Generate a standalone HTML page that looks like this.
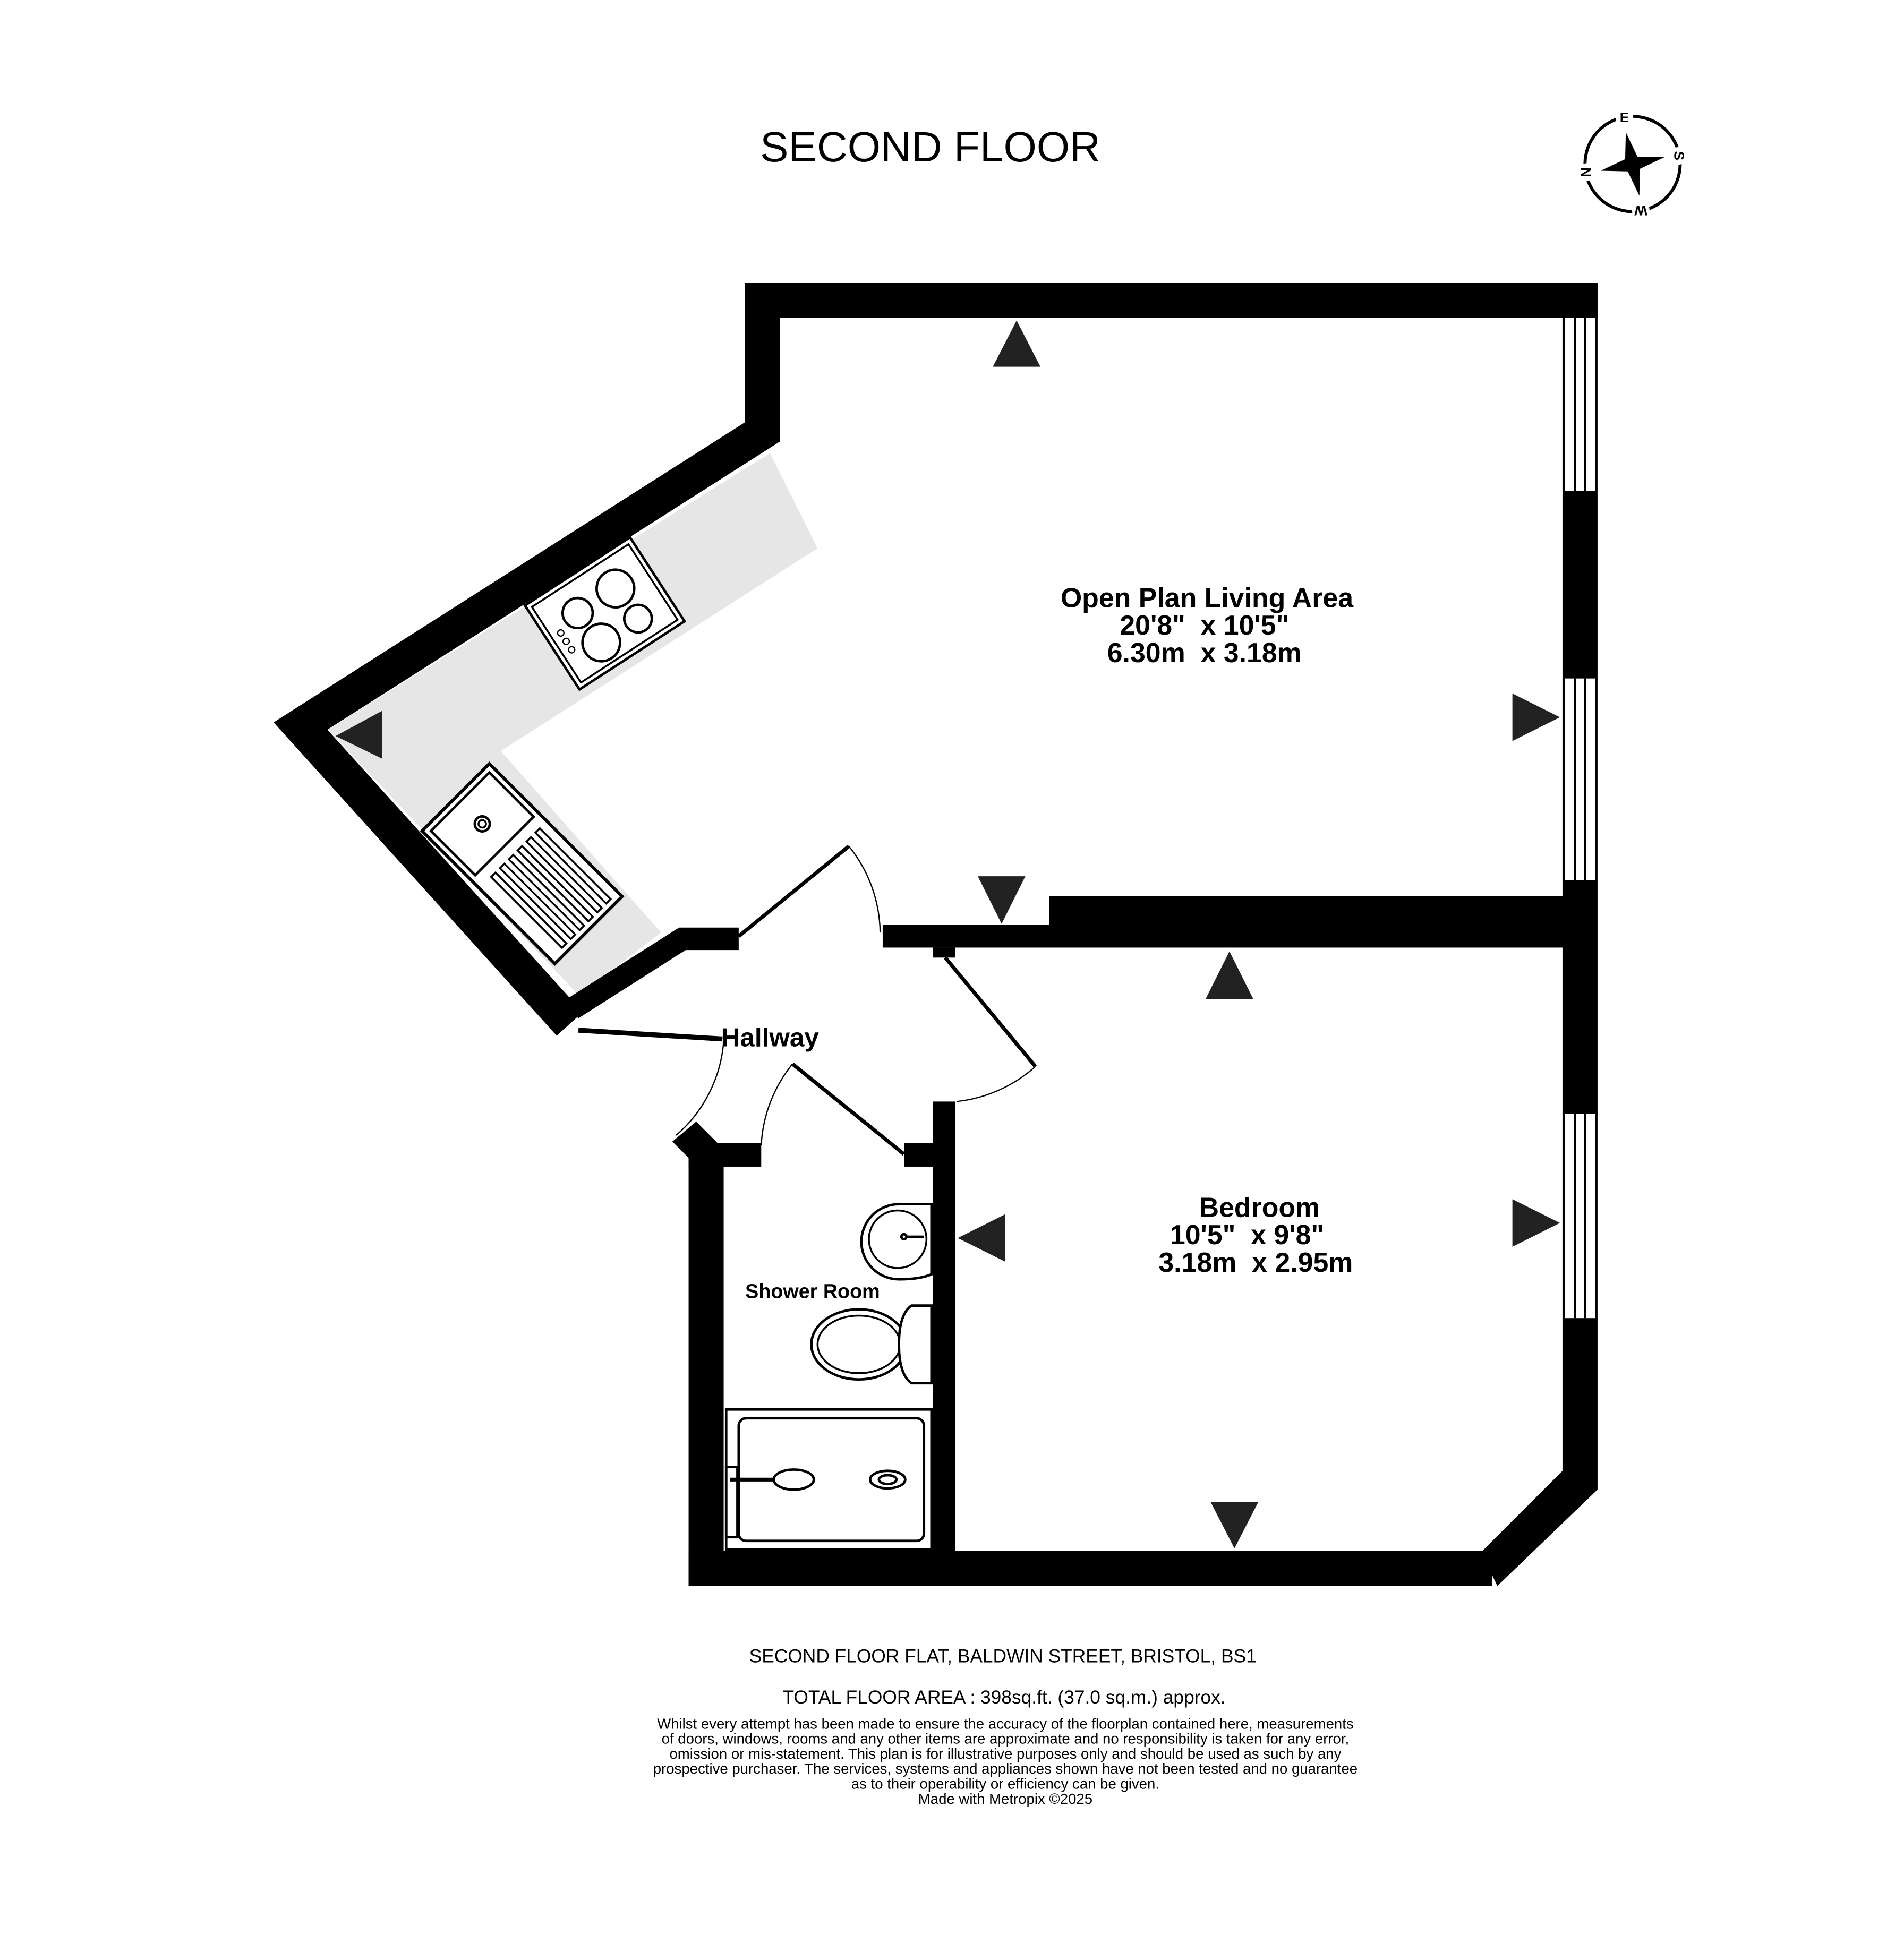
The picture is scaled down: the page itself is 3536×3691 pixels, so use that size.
<!DOCTYPE html>
<html><head><meta charset="utf-8"><style>
html,body{margin:0;padding:0;background:#fff;}
svg{display:block;}
text{font-family:"Liberation Sans",sans-serif;white-space:pre;}
</style></head><body>
<svg width="3536" height="3691" viewBox="0 0 1500 1565.8" xmlns="http://www.w3.org/2000/svg" xml:space="preserve">
<rect width="1500" height="1566" fill="#fff"/>
<text x="743" y="129" font-size="34" text-anchor="middle">SECOND FLOOR</text>
<!-- compass -->
<g transform="translate(1304,131)">
<circle r="38" fill="none" stroke="#000" stroke-width="2.5"/>
<polygon points="0,-26 5,-5 26,0 5,5 0,26 -5,5 -26,0 -5,-5" fill="#000" transform="rotate(-12)"/>
<g font-size="11" font-weight="bold" text-anchor="middle">
<g transform="rotate(-100) translate(38,0)"><rect x="-6" y="-7" width="12" height="14" fill="#fff"/><text transform="rotate(100)" y="4">E</text></g>
<g transform="rotate(-10) translate(38,0)"><rect x="-6" y="-7" width="12" height="14" fill="#fff"/><text transform="rotate(100)" y="4">S</text></g>
<g transform="rotate(80) translate(38,0)"><rect x="-7" y="-7" width="14" height="14" fill="#fff"/><text transform="rotate(100)" y="4">W</text></g>
<g transform="rotate(170) translate(38,0)"><rect x="-6" y="-7" width="12" height="14" fill="#fff"/><text transform="rotate(100)" y="4">N</text></g>
</g>
</g>
<!-- kitchen counter -->
<polygon points="262,583 615,362 653,438 400,600 528,745 462,795" fill="#e6e6e6"/>
<!-- main walls -->
<rect x="595" y="226" width="681" height="28" fill="#000"/>
<path d="M609,240 L609,345 L240,580 L455,818" stroke="#000" stroke-width="28" fill="none" stroke-linejoin="miter"/>
<path d="M457,806 L545,750 L590,750" stroke="#000" stroke-width="18" fill="none"/>
<rect x="705" y="739" width="557" height="18" fill="#000"/>
<rect x="838" y="716" width="424" height="25" fill="#000"/>
<rect x="745" y="757" width="18" height="8" fill="#000"/>
<rect x="745" y="880" width="18" height="387" fill="#000"/>
<!-- right wall -->
<rect x="1248" y="226" width="28" height="964" fill="#000"/>
<rect x="1249" y="254" width="26" height="138" fill="#fff"/>
<rect x="1249" y="542" width="26" height="161" fill="#fff"/>
<rect x="1249" y="890" width="26" height="163" fill="#fff"/>
<g stroke="#000" stroke-width="1.5">
<line x1="1249" y1="254" x2="1249" y2="392"/><line x1="1258" y1="254" x2="1258" y2="392"/><line x1="1266" y1="254" x2="1266" y2="392"/><line x1="1275" y1="254" x2="1275" y2="392"/>
<line x1="1249" y1="542" x2="1249" y2="703"/><line x1="1258" y1="542" x2="1258" y2="703"/><line x1="1266" y1="542" x2="1266" y2="703"/><line x1="1275" y1="542" x2="1275" y2="703"/>
<line x1="1249" y1="890" x2="1249" y2="1053"/><line x1="1258" y1="890" x2="1258" y2="1053"/><line x1="1266" y1="890" x2="1266" y2="1053"/><line x1="1275" y1="890" x2="1275" y2="1053"/>
</g>
<polygon points="1248,1175 1276,1190 1196,1267 1183,1240" fill="#000"/>
<rect x="550" y="1239" width="642" height="28" fill="#000"/>
<!-- shower room walls -->
<rect x="550" y="915" width="28" height="352" fill="#000"/>
<rect x="550" y="913" width="58" height="19" fill="#000"/>
<rect x="722" y="913" width="25" height="19" fill="#000"/>
<polygon points="537,912 556,896 575,915 555,930" fill="#000"/>
<!-- hallway thin wall -->
<line x1="462" y1="823" x2="577" y2="830" stroke="#000" stroke-width="4"/>
<!-- doors -->
<g stroke="#000" fill="none">
<line x1="590" y1="748" x2="678" y2="676" stroke-width="3"/>
<path d="M678,676 A112,112 0 0 1 703,745" stroke-width="1"/>
<line x1="755" y1="765" x2="827" y2="852" stroke-width="3"/>
<path d="M827,852 A112,112 0 0 1 764,880" stroke-width="1"/>
<line x1="722" y1="922" x2="633" y2="850" stroke-width="3"/>
<path d="M633,850 A112,112 0 0 0 608,915" stroke-width="1"/>
<path d="M578,832 A110,110 0 0 1 540,907" stroke-width="1"/>
</g>
<!-- hob -->
<g transform="translate(483,490) rotate(-33)">
<rect x="-50" y="-40" width="100" height="80" fill="#fff" stroke="#000" stroke-width="2"/>
<rect x="-46" y="-36" width="92" height="72" fill="none" stroke="#000" stroke-width="1.5"/>
<circle cx="-18" cy="-12" r="12" fill="none" stroke="#000" stroke-width="2"/>
<circle cx="18" cy="-12" r="15" fill="none" stroke="#000" stroke-width="2"/>
<circle cx="-15" cy="18" r="15" fill="none" stroke="#000" stroke-width="2"/>
<circle cx="20" cy="18" r="11" fill="none" stroke="#000" stroke-width="2"/>
<circle cx="-38" cy="-6" r="2.5" fill="none" stroke="#000"/><circle cx="-38" cy="2" r="2.5" fill="none" stroke="#000"/><circle cx="-38" cy="10" r="2.5" fill="none" stroke="#000"/>
</g>
<!-- sink -->
<g transform="translate(417,690) rotate(45)">
<rect x="-75" y="-38" width="150" height="76" fill="#fff" stroke="#000" stroke-width="2.5"/>
<rect x="-70" y="-33" width="50" height="66" fill="none" stroke="#000" stroke-width="2"/>
<circle cx="-45" cy="0" r="6" fill="none" stroke="#000" stroke-width="2"/>
<circle cx="-45" cy="0" r="3" fill="none" stroke="#000" stroke-width="1.5"/>
<g fill="none" stroke="#000" stroke-width="1.5">
<rect x="-10" y="-30" width="80" height="5"/><rect x="-10" y="-20" width="80" height="5"/><rect x="-10" y="-10" width="80" height="5"/><rect x="-10" y="0" width="80" height="5"/><rect x="-10" y="10" width="80" height="5"/><rect x="-10" y="20" width="80" height="5"/>
</g>
</g>
<!-- basin -->
<g fill="#fff" stroke="#000" stroke-width="2">
<path d="M744,962 L744,1018 Q735,1022 718,1022 A28,28 0 1 1 718,962 Q735,962 744,962 Z"/>
<circle cx="717" cy="990" r="23" fill="none" stroke-width="1.5"/>
<circle cx="722" cy="988" r="2" /><line x1="725" y1="988" x2="738" y2="988"/>
</g>
<!-- toilet -->
<g fill="#fff" stroke="#000" stroke-width="2">
<ellipse cx="686" cy="1074" rx="38" ry="28"/>
<ellipse cx="686" cy="1074" rx="33" ry="23" fill="none" stroke-width="1.5"/>
<path d="M744,1043 L728,1043 Q718,1050 718,1074 Q718,1098 728,1105 L744,1105 Z"/>
</g>
<!-- shower -->
<g fill="none" stroke="#000" stroke-width="2">
<rect x="580" y="1126" width="164" height="112" fill="#fff"/>
<rect x="590" y="1133" width="148" height="98" rx="6"/>
<rect x="580" y="1172" width="9" height="56"/>
<line x1="583" y1="1182" x2="620" y2="1182" stroke-width="3"/>
<ellipse cx="634" cy="1182" rx="16" ry="8" fill="#fff"/>
<ellipse cx="709" cy="1182" rx="14" ry="7"/><ellipse cx="709" cy="1182" rx="7" ry="3.5"/>
</g>
<!-- arrows -->
<g fill="#222">
<polygon points="812,256 793,293 831,293"/>
<polygon points="1246,573 1208,554 1208,592"/>
<polygon points="800,738 781,700 819,700"/>
<polygon points="268,588 305,568 305,606"/>
<polygon points="982,760 963,798 1001,798"/>
<polygon points="1246,977 1208,958 1208,996"/>
<polygon points="986,1237 967,1200 1005,1200"/>
<polygon points="765,989 803,970 803,1008"/>
</g>
<!-- labels -->
<g font-weight="bold" text-anchor="middle" fill="#000">
<text x="964" y="485" font-size="22">Open Plan Living Area</text>
<text x="962" y="507" font-size="22">20'8"  x 10'5"</text>
<text x="962" y="529" font-size="22">6.30m  x 3.18m</text>
<text x="1006" y="972" font-size="22">Bedroom</text>
<text x="996" y="994" font-size="22">10'5"  x 9'8"</text>
<text x="1003" y="1016" font-size="22">3.18m  x 2.95m</text>
<text x="615" y="836" font-size="21">Hallway</text>
<text x="649" y="1037" font-size="16">Shower Room</text>
</g>
<g text-anchor="middle" fill="#000">
<text x="801" y="1328" font-size="15">SECOND FLOOR FLAT, BALDWIN STREET, BRISTOL, BS1</text>
<text x="802" y="1361" font-size="15">TOTAL FLOOR AREA : 398sq.ft. (37.0 sq.m.) approx.</text>
<g font-size="11.7">
<text x="803" y="1381">Whilst every attempt has been made to ensure the accuracy of the floorplan contained here, measurements</text>
<text x="803" y="1393">of doors, windows, rooms and any other items are approximate and no responsibility is taken for any error,</text>
<text x="803" y="1405">omission or mis-statement. This plan is for illustrative purposes only and should be used as such by any</text>
<text x="803" y="1417">prospective purchaser. The services, systems and appliances shown have not been tested and no guarantee</text>
<text x="803" y="1429">as to their operability or efficiency can be given.</text>
<text x="803" y="1441">Made with Metropix ©2025</text>
</g>
</g>
</svg>
</body></html>
